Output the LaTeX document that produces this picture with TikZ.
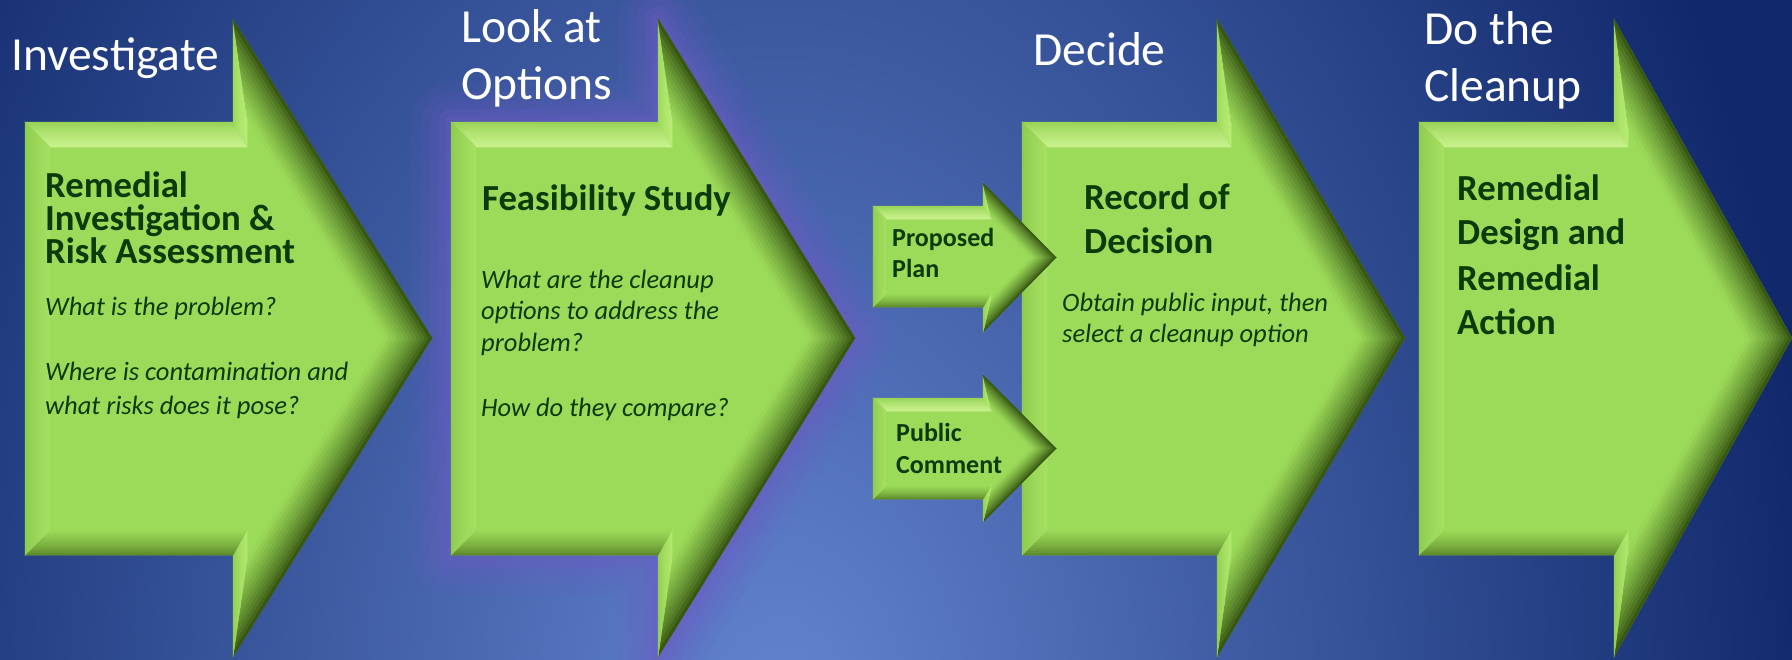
\documentclass[tikz,border=0pt]{standalone}
\usepackage{fontspec}
\setmainfont{Carlito}
\usetikzlibrary{calc}
\definecolor{bglight}{HTML}{6384CF}
\definecolor{bgdark}{HTML}{10286A}
\definecolor{glowc}{HTML}{6E5CC4}
\definecolor{bodyg}{HTML}{9CDB59}
\definecolor{topO}{HTML}{94D052}
\definecolor{topI}{HTML}{C8F28C}
\definecolor{lefO}{HTML}{8CCA4C}
\definecolor{lefI}{HTML}{A6E062}
\definecolor{vupO}{HTML}{9AD858}
\definecolor{vupI}{HTML}{BAEC76}
\definecolor{diaO}{HTML}{2E4A0C}
\definecolor{diaI}{HTML}{9CDB59}
\definecolor{vdnO}{HTML}{8FCC4E}
\definecolor{vdnI}{HTML}{B2E86E}
\definecolor{botO}{HTML}{5A8428}
\definecolor{botI}{HTML}{9CDB59}
\definecolor{txtg}{HTML}{0B3A0B}
\def\bvT{25}\def\bvV{14}\def\bvD{40}
\newcommand\arrowcoords[8]{%
 \pgfmathsetmacro\arM{(#7+#8)/2}%
 \pgfmathsetmacro\arDx{#4-#3}%
 \pgfmathsetmacro\arDy{\arM-#7}%
 \pgfmathsetmacro\arLen{100*veclen(\arDx/100,\arDy/100)}%
 \pgfmathsetmacro\arT{(\bvV+\bvD*\arDy/\arLen)/\arDx}%
 \pgfmathsetmacro\arYt{\bvD*\arDx/\arLen+\arT*\arDy}%
 \pgfmathsetmacro\arXi{#4-\bvD*\arLen/\arDy}%
 \coordinate (#1o1) at (#2,#5);
 \coordinate (#1o2) at (#3,#5);
 \coordinate (#1o3) at (#3,#7);
 \coordinate (#1o4) at (#4,\arM);
 \coordinate (#1o5) at (#3,#8);
 \coordinate (#1o6) at (#3,#6);
 \coordinate (#1o7) at (#2,#6);
 \coordinate (#1i1) at (#2+\bvT,#5+\bvT);
 \coordinate (#1i2) at (#3+\bvV,#5+\bvT);
 \coordinate (#1i3) at (#3+\bvV,#7+\arYt);
 \coordinate (#1i4) at (\arXi,\arM);
 \coordinate (#1i5) at (#3+\bvV,#8-\arYt);
 \coordinate (#1i6) at (#3+\bvV,#6-\bvT);
 \coordinate (#1i7) at (#2+\bvT,#6-\bvT);
}
\newcommand\facet[6]{%
 \foreach \k in {0,...,11}{%
  \pgfmathsetmacro\fcA{\k/12}%
  \pgfmathsetmacro\fcB{(\k+1)/12}%
  \pgfmathsetmacro\fcP{100*((\k+0.5)/12)^0.75}%
  \fill[draw, line width=0.5pt, color=#6!\fcP!#5] ($(#1)!\fcA!(#4)$) -- ($(#2)!\fcA!(#3)$) -- ($(#2)!\fcB!(#3)$) -- ($(#1)!\fcB!(#4)$) -- cycle;
 }}
\newcommand\arrowdraw[1]{%
 \fill[bodyg] (#1o1) -- (#1o2) -- (#1o3) -- (#1o4) -- (#1o5) -- (#1o6) -- (#1o7) -- cycle;
 \facet{#1o1}{#1o2}{#1i2}{#1i1}{topO}{topI}
 \facet{#1o2}{#1o3}{#1i3}{#1i2}{vupO}{vupI}
 \facet{#1o3}{#1o4}{#1i4}{#1i3}{diaO}{diaI}
 \facet{#1o4}{#1o5}{#1i5}{#1i4}{diaO}{diaI}
 \facet{#1o5}{#1o6}{#1i6}{#1i5}{vdnO}{vdnI}
 \facet{#1o6}{#1o7}{#1i7}{#1i6}{botO}{botI}
 \facet{#1o7}{#1o1}{#1i1}{#1i7}{lefO}{lefI}
}
\tikzset{
 lbl/.style={text=white, font=\fontsize{47.5}{58}\selectfont, anchor=base west, inner sep=0pt},
 hdr/.style={text=txtg, font=\bfseries\fontsize{36.7}{44}\selectfont, anchor=base west, inner sep=0pt},
 itl/.style={text=txtg, font=\itshape\fontsize{26.5}{31}\selectfont, anchor=base west, inner sep=0pt},
 sml/.style={text=txtg, font=\bfseries\fontsize{26}{31}\selectfont, anchor=base west, inner sep=0pt}
}
\begin{document}
\begin{tikzpicture}[x=1pt,y=-1pt]
\useasboundingbox (0,0) rectangle (1792,659);
\begin{scope}
 \clip (0,0) rectangle (1792,659);
 \fill[bgdark] (0,0) rectangle (1792,659);
 \shade[inner color=bglight, outer color=bgdark] (780,720) ellipse [x radius=1050, y radius=1500];
\end{scope}
% geometry
\arrowcoords{A}{25}{233}{432}{122}{555}{19}{657}
\arrowcoords{B}{451}{658}{855}{122}{555}{19}{657}
\arrowcoords{C}{1022}{1217}{1405}{122}{555}{19}{657}
\arrowcoords{D}{1419}{1614}{1792}{122}{555}{19}{657}
\def\bvT{13}\def\bvV{8}\def\bvD{18}
\arrowcoords{P}{873}{983}{1056}{206}{307}{183}{332}
\arrowcoords{Q}{873}{983}{1056}{398}{499}{375}{522}
% glow behind the second arrow
\begin{scope}
 \clip (0,0) rectangle (1792,659);
 \foreach \w/\o in {80/0.10, 60/0.12, 42/0.15, 26/0.2, 12/0.25}{
  \draw[glowc, line width=\w pt, opacity=\o, line join=round] (Bo1) -- (Bo2) -- (Bo3) -- (Bo4) -- (Bo5) -- (Bo6) -- (Bo7) -- cycle;
 }
\end{scope}
\arrowdraw{A}
\arrowdraw{B}
\arrowdraw{C}
\arrowdraw{D}
\arrowdraw{P}
\arrowdraw{Q}
% stage labels
\node[lbl] (l1) at (11,70) {Investigate};
\node[lbl] (l2a) at (461,42) {Look at};
\node[lbl] (l2b) at (461,99) {Options};
\node[lbl] (l3) at (1033,65) {Decide};
\node[lbl] (l4a) at (1424,44) {Do the};
\node[lbl] (l4b) at (1424,101) {Cleanup};
% arrow 1
\node[hdr] (h1a) at (45,197.5) {Remedial};
\node[hdr] (h1b) at (45,230) {Investigation \&};
\node[hdr] (h1c) at (45,263) {Risk Assessment};
\node[itl] (t1a) at (45,315) {What is the problem?};
\node[itl] (t1b) at (45,380) {Where is contamination and};
\node[itl] (t1c) at (45,414) {what risks does it pose?};
% arrow 2
\node[hdr] (h2) at (482,210) {Feasibility Study};
\node[itl] (t2a) at (481,288) {What are the cleanup};
\node[itl] (t2b) at (481,319) {options to address the};
\node[itl] (t2c) at (481,351) {problem?};
\node[itl] (t2d) at (481,416) {How do they compare?};
% small arrows
\node[sml] (p1) at (892,246) {Proposed};
\node[sml] (p2) at (892,277) {Plan};
\node[sml] (q1) at (896,441) {Public};
\node[sml] (q2) at (896,473) {Comment};
% arrow 3
\node[hdr] (h3a) at (1084,209) {Record of};
\node[hdr] (h3b) at (1084,253) {Decision};
\node[itl] (t3a) at (1062,311) {Obtain public input, then};
\node[itl] (t3b) at (1062,342) {select a cleanup option};
% arrow 4
\node[hdr] (h4a) at (1457,200) {Remedial};
\node[hdr] (h4b) at (1457,244) {Design and};
\node[hdr] (h4c) at (1457,290) {Remedial};
\node[hdr] (h4d) at (1457,334) {Action};
\end{tikzpicture}
\end{document}
